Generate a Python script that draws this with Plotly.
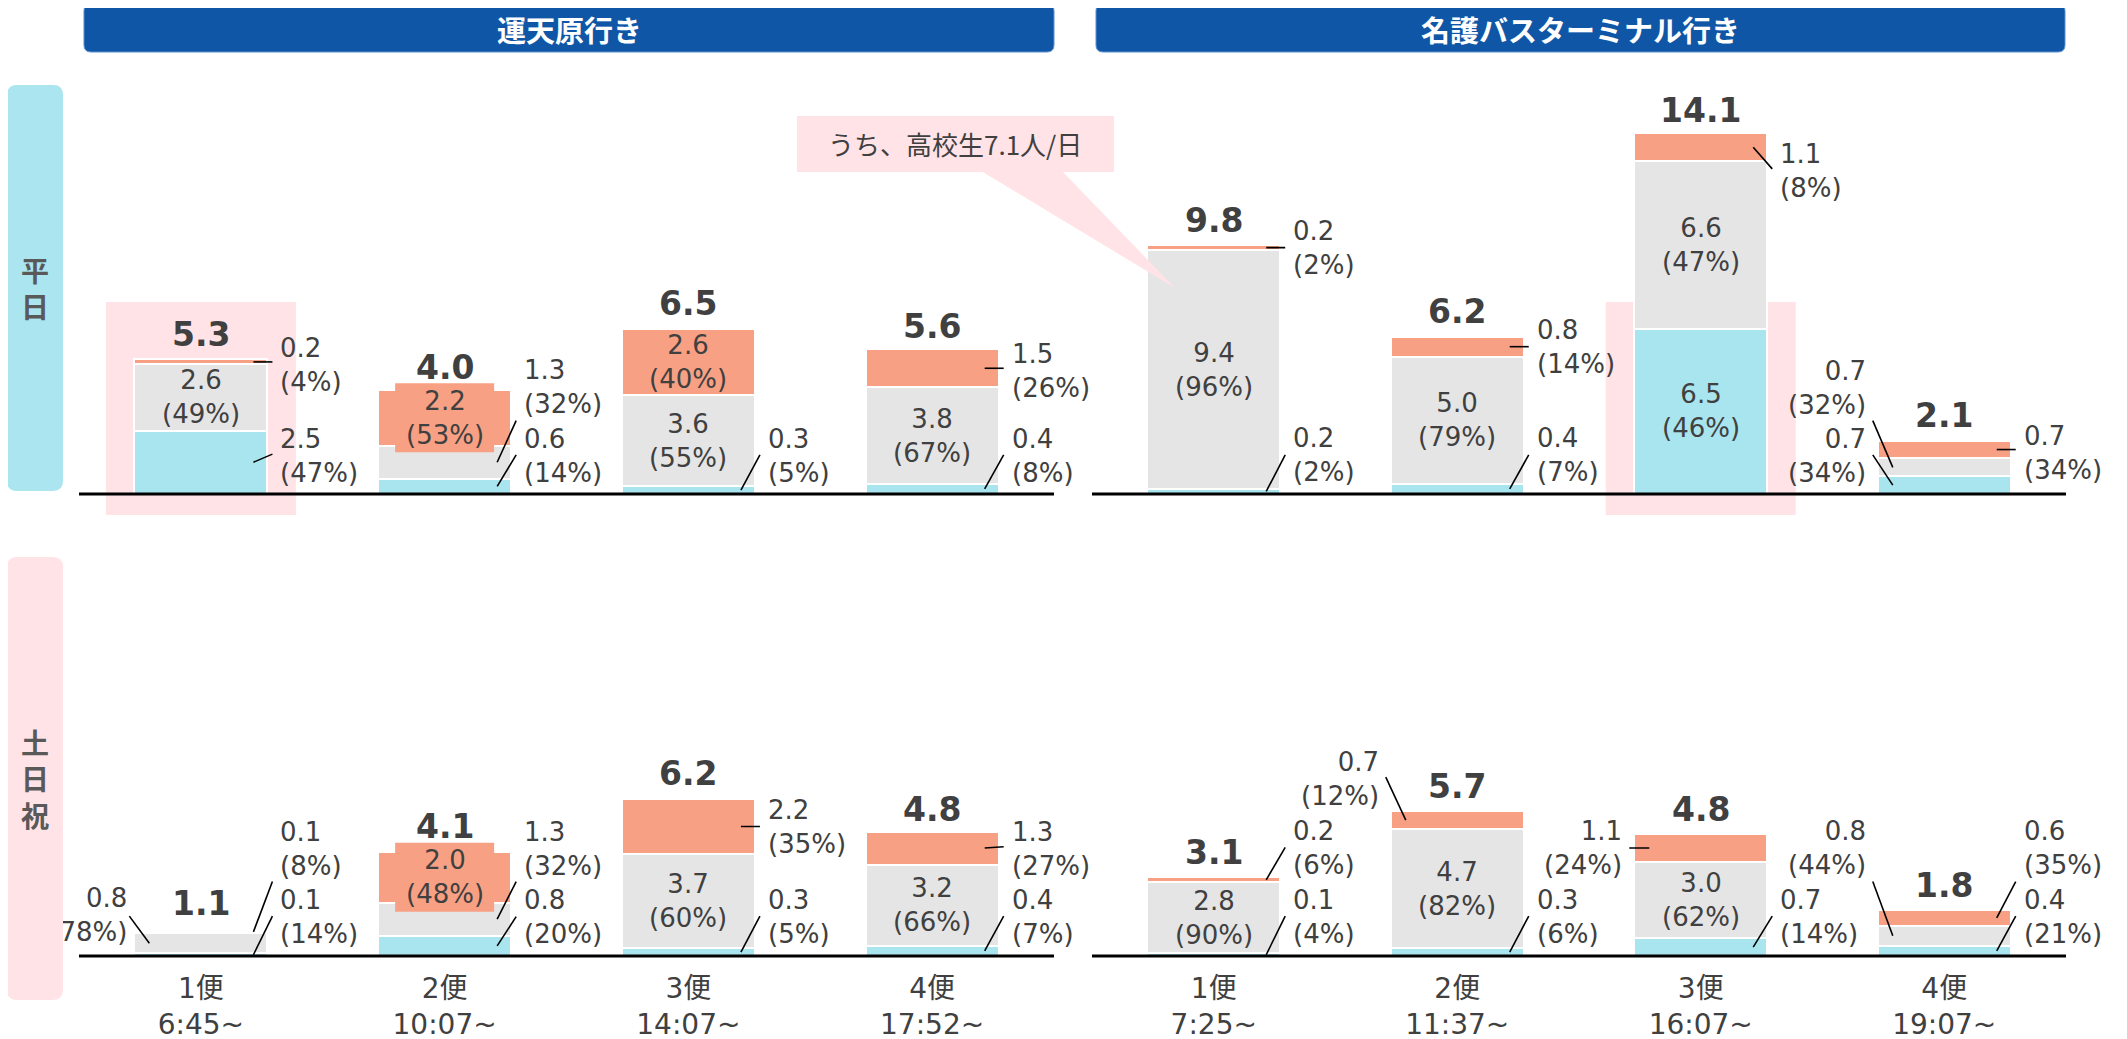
import plotly.graph_objects as go

# ---------------- data ----------------
routes = ["運天原行き", "名護バスターミナル行き"]
day_types = ["平日", "土日祝"]
trips_unten = ["1便<br>6:45~", "2便<br>10:07~", "3便<br>14:07~", "4便<br>17:52~"]
trips_nago = ["1便<br>7:25~", "2便<br>11:37~", "3便<br>16:07~", "4便<br>19:07~"]
segment_names = ["区分A", "区分B", "区分C"]
callout_text = "うち、高校生7.1人/日"

# 平日・運天原行き
wd_unten_a = [2.5, 0.6, 0.3, 0.4]
wd_unten_b = [2.6, 1.3, 3.6, 3.8]
wd_unten_c = [0.2, 2.2, 2.6, 1.5]
wd_unten_total = [5.3, 4.0, 6.5, 5.6]
wd_unten_pa = [47, 14, 5, 8]
wd_unten_pb = [49, 32, 55, 67]
wd_unten_pc = [4, 53, 40, 26]

# 平日・名護バスターミナル行き
wd_nago_a = [0.2, 0.4, 6.5, 0.7]
wd_nago_b = [9.4, 5.0, 6.6, 0.7]
wd_nago_c = [0.2, 0.8, 1.1, 0.7]
wd_nago_total = [9.8, 6.2, 14.1, 2.1]
wd_nago_pa = [2, 7, 46, 34]
wd_nago_pb = [96, 79, 47, 32]
wd_nago_pc = [2, 14, 8, 34]

# 土日祝・運天原行き
hd_unten_a = [0.1, 0.8, 0.3, 0.4]
hd_unten_b = [0.8, 1.3, 3.7, 3.2]
hd_unten_c = [0.1, 2.0, 2.2, 1.3]
hd_unten_total = [1.1, 4.1, 6.2, 4.8]
hd_unten_pa = [14, 20, 5, 7]
hd_unten_pb = [78, 32, 60, 66]
hd_unten_pc = [8, 48, 35, 27]

# 土日祝・名護バスターミナル行き
hd_nago_a = [0.1, 0.3, 0.7, 0.4]
hd_nago_b = [2.8, 4.7, 3.0, 0.8]
hd_nago_c = [0.2, 0.7, 1.1, 0.6]
hd_nago_total = [3.1, 5.7, 4.8, 1.8]
hd_nago_pa = [4, 6, 14, 21]
hd_nago_pb = [90, 82, 62, 44]
hd_nago_pc = [6, 12, 24, 35]

# ---------------- label placement (style, not data) ----------------
# per bar: (segA, segB, segC); "in" = inside, "box" = inside with fill box,
# ("R"/"L", text centre y, leader end y or None=horizontal)
PLACE_WD_UNTEN = [
    [("R", 1.50, 1.57), "in", ("R", 5.08, None)],
    [("R", 1.50, 1.54), ("R", 4.21, 2.89), "box"],
    [("R", 1.50, 1.54), "in", "in"],
    [("R", 1.50, 1.54), "in", ("R", 4.84, None)],
]
PLACE_WD_NAGO = [
    [("R", 1.52, 1.54), "in", ("R", 9.69, None)],
    [("R", 1.52, 1.54), "in", ("R", 5.77, None)],
    ["in", "in", ("R", 12.70, 12.80)],
    [("L", 1.50, 1.54), ("L", 4.19, 2.89), ("R", 1.63, None)],
]
PLACE_HD_UNTEN = [
    [("R", 1.52, 1.57), ("Lclip", 1.52, 1.57), ("R", 4.21, 2.93)],
    [("R", 1.52, 1.55), ("R", 4.21, 2.93), "box"],
    [("R", 1.52, 1.57), "in", ("R", 5.06, None)],
    [("R", 1.52, 1.57), "in", ("R", 4.21, 4.30)],
]
PLACE_HD_NAGO = [
    [("R", 1.52, 1.57), "in", ("R", 4.24, 4.28)],
    [("R", 1.52, 1.57), "in", ("L", 6.97, 7.04)],
    [("R", 1.52, 1.57), "in", ("L", 4.24, None)],
    [("R", 1.52, 1.57), ("L", 4.24, 2.93), ("R", 4.24, 2.93)],
]

panels = [
    dict(row=0, col=0, a=wd_unten_a, b=wd_unten_b, c=wd_unten_c, total=wd_unten_total,
         pa=wd_unten_pa, pb=wd_unten_pb, pc=wd_unten_pc, place=PLACE_WD_UNTEN, trips=trips_unten),
    dict(row=0, col=1, a=wd_nago_a, b=wd_nago_b, c=wd_nago_c, total=wd_nago_total,
         pa=wd_nago_pa, pb=wd_nago_pb, pc=wd_nago_pc, place=PLACE_WD_NAGO, trips=trips_nago),
    dict(row=1, col=0, a=hd_unten_a, b=hd_unten_b, c=hd_unten_c, total=hd_unten_total,
         pa=hd_unten_pa, pb=hd_unten_pb, pc=hd_unten_pc, place=PLACE_HD_UNTEN, trips=trips_unten),
    dict(row=1, col=1, a=hd_nago_a, b=hd_nago_b, c=hd_nago_c, total=hd_nago_total,
         pa=hd_nago_pa, pb=hd_nago_pb, pc=hd_nago_pc, place=PLACE_HD_NAGO, trips=trips_nago),
]
highlights = [(0, 0, 0), (0, 1, 2)]  # (row, col, bar) with pink background

# ---------------- geometry / style ----------------
W, H = 2127, 1039
OFF = 8  # page body margin
PXU_Y = 25.4
COL_PX = [(79.0, 1054.0), (1092.0, 2066.0)]
ROW_BASE = [494.0, 956.0]
ROW_TOP = [60.0, 540.0]
ROW_YMIN = [-1.0, -0.1]
BAR_W = 0.546
C_A, C_B, C_C = "#A9E5EF", "#E5E5E5", "#F8A084"
PINK = "#FFE3E6"
NAVY = "#0F57A6"
TXT = "#404040"
NUMFONT = "DejaVu Sans, Noto Sans CJK JP, sans-serif"
JPFONT = "Noto Sans CJK JP, sans-serif"
LBL = 26


def pxx(x):
    return (x - OFF) / W


def pxy(y):
    return 1 - (y - OFF) / H


def rrect_path(x0, y0, x1, y1, r):
    pts = [("M", x0 + r, y0), ("L", x1 - r, y0), ("Q", x1, y0, x1, y0 + r),
           ("L", x1, y1 - r), ("Q", x1, y1, x1 - r, y1), ("L", x0 + r, y1),
           ("Q", x0, y1, x0, y1 - r), ("L", x0, y0 + r), ("Q", x0, y0, x0 + r, y0)]
    s = ""
    for p in pts:
        cmd, vals = p[0], p[1:]
        coords = []
        for k in range(0, len(vals), 2):
            coords.append(f"{pxx(vals[k]):.5f},{pxy(vals[k + 1]):.5f}")
        s += cmd + " " + " ".join(coords) + " "
    return s + "Z"


fig = go.Figure()
layout = dict(width=W, height=H, margin=dict(l=0, r=0, t=0, b=0),
              paper_bgcolor="white", plot_bgcolor="rgba(0,0,0,0)",
              showlegend=False, barmode="stack", font=dict(family=NUMFONT, color=TXT))
annotations = []
shapes = []

for p in panels:
    r, c = p["row"], p["col"]
    n = r * 2 + c + 1
    xk = "xaxis" if n == 1 else f"xaxis{n}"
    yk = "yaxis" if n == 1 else f"yaxis{n}"
    xr = "x" if n == 1 else f"x{n}"
    yr = "y" if n == 1 else f"y{n}"
    x0p, x1p = COL_PX[c]
    pxu_x = (x1p - x0p) / 4.0
    hw = BAR_W / 2 * pxu_x
    ymin = ROW_YMIN[r]
    bot_px = ROW_BASE[r] - ymin * PXU_Y
    ymax = (ROW_BASE[r] - ROW_TOP[r]) / PXU_Y
    layout[xk] = dict(domain=[pxx(x0p), pxx(x1p)], range=[-0.5, 3.5], anchor=yr,
                      showgrid=False, zeroline=False, showline=False, ticks="",
                      tickvals=[0, 1, 2, 3], ticktext=p["trips"], ticklabelstandoff=10,
                      showticklabels=(r == 1), tickfont=dict(size=28, color=TXT, family=NUMFONT),
                      fixedrange=True)
    layout[yk] = dict(domain=[pxy(bot_px), pxy(ROW_TOP[r])], range=[ymin, ymax], anchor=xr,
                      visible=False, fixedrange=True)

    xs = [0, 1, 2, 3]
    for vals, col, nm in [(p["a"], C_A, segment_names[0]), (p["b"], C_B, segment_names[1]),
                          (p["c"], C_C, segment_names[2])]:
        fig.add_trace(go.Bar(x=xs, y=vals, width=BAR_W, name=nm, xaxis=xr, yaxis=yr,
                             marker=dict(color=col, line=dict(color="white", width=2)),
                             hoverinfo="skip"))

    # baseline
    shapes.append(dict(type="line", xref=xr, yref=yr, x0=-0.5, x1=3.5, y0=0, y1=0,
                       line=dict(color="black", width=3), layer="above"))

    for i in range(4):
        segs = [(p["a"][i], p["pa"][i]), (p["b"][i], p["pb"][i]), (p["c"][i], p["pc"][i])]
        base = 0.0
        for k, (v, pct) in enumerate(segs):
            mid = base + v / 2
            base += v
            spec = p["place"][i][k]
            txt = f"{v:.1f}<br>({pct}%)"
            if spec in ("in", "box"):
                if spec == "box":
                    shapes.append(dict(type="rect", xref=xr, yref=yr, xsizemode="pixel",
                                       ysizemode="pixel", xanchor=i, yanchor=mid,
                                       x0=-49.5, x1=49.5, y0=-34.5, y1=34.5,
                                       fillcolor=C_C, line=dict(width=0), layer="above"))
                annotations.append(dict(x=i, y=mid, xref=xr, yref=yr, text=txt, showarrow=False,
                                        xanchor="center", yanchor="middle", align="center",
                                        font=dict(size=LBL, color=TXT, family=NUMFONT)))
                continue
            side, ty, ly = spec
            if ly is None:
                ly = mid
            if side == "R":
                lx0, lx1 = hw - 14, hw + 5
            else:
                lx0, lx1 = -hw + 15, -hw - 5
            shapes.append(dict(type="line", xref=xr, yref=yr, xsizemode="pixel", xanchor=i,
                               x0=lx0, x1=lx1, y0=mid, y1=ly,
                               line=dict(color="black", width=1.6), layer="above"))
            if side == "R":
                annotations.append(dict(x=i, y=ty, xref=xr, yref=yr, text=txt, showarrow=False,
                                        xanchor="left", yanchor="middle", align="left",
                                        xshift=hw + 11,
                                        font=dict(size=LBL, color=TXT, family=NUMFONT)))
            elif side == "L":
                annotations.append(dict(x=i, y=ty, xref=xr, yref=yr, text=txt, showarrow=False,
                                        xanchor="right", yanchor="middle", align="right",
                                        xshift=-(hw + 10),
                                        font=dict(size=LBL, color=TXT, family=NUMFONT)))
            else:  # label partly hidden behind the side tab
                fig.add_trace(go.Scatter(x=[i - (hw + 7) / pxu_x], y=[ty], mode="text",
                                         text=[txt], textposition="middle left",
                                         textfont=dict(size=LBL, color=TXT, family=NUMFONT),
                                         cliponaxis=False, xaxis=xr, yaxis=yr,
                                         hoverinfo="skip"))
        annotations.append(dict(x=i, y=p["total"][i], xref=xr, yref=yr,
                                text=f"{p['total'][i]:.1f}", showarrow=False,
                                xanchor="center", yanchor="middle", yshift=25,
                                font=dict(size=33, color=TXT, family=NUMFONT, weight="bold")))

    for (hr, hc, hb) in highlights:
        if hr == r and hc == c:
            shapes.append(dict(type="rect", xref=xr, yref=yr, xsizemode="pixel",
                               ysizemode="pixel", xanchor=hb, yanchor=0,
                               x0=-95, x1=95, y0=-21, y1=192,
                               fillcolor=PINK, line=dict(width=0), layer="below"))

# route headers
for (x0, x1), name in zip([(84, 1054), (1096, 2065)], routes):
    shapes.append(dict(type="path", xref="paper", yref="paper",
                       path=rrect_path(x0, 4, x1, 52, 7), fillcolor=NAVY,
                       line=dict(color="#5C8FCF", width=1), layer="above"))
    annotations.append(dict(x=pxx((x0 + x1) / 2), y=pxy(29), xref="paper", yref="paper",
                            text=name, showarrow=False, xanchor="center", yanchor="middle",
                            borderpad=0,
                            font=dict(size=29, color="white", family=JPFONT, weight="bold")))

# day-type side tabs
for (y0, y1), name, col in zip([(85, 491), (557, 1000)], day_types, ["#ABE5EF", PINK]):
    shapes.append(dict(type="path", xref="paper", yref="paper",
                       path=rrect_path(7, y0, 63, y1, 10), fillcolor=col,
                       line=dict(width=0), layer="above"))
    annotations.append(dict(x=pxx(35), y=pxy((y0 + y1) / 2), xref="paper", yref="paper",
                            text="<br>".join(list(name)), showarrow=False,
                            xanchor="center", yanchor="middle", align="center",
                            font=dict(size=28, color="#595959", family=JPFONT, weight="bold")))

# callout
shapes.append(dict(type="rect", xref="paper", yref="paper", x0=pxx(797), x1=pxx(1114),
                   y0=pxy(172), y1=pxy(116), fillcolor=PINK, line=dict(width=0), layer="above"))
tri = (f"M {pxx(981):.5f},{pxy(171):.5f} L {pxx(1062):.5f},{pxy(171):.5f} "
       f"L {pxx(1175):.5f},{pxy(288):.5f} Z")
shapes.append(dict(type="path", xref="paper", yref="paper", path=tri, fillcolor=PINK,
                   line=dict(width=0), layer="above"))
annotations.append(dict(x=pxx(955), y=pxy(144), xref="paper", yref="paper", text=callout_text,
                        showarrow=False, xanchor="center", yanchor="middle",
                        font=dict(size=26, color=TXT, family=JPFONT)))

layout["annotations"] = annotations
layout["shapes"] = shapes
fig.update_layout(**layout)
fig.write_html("out.html")
